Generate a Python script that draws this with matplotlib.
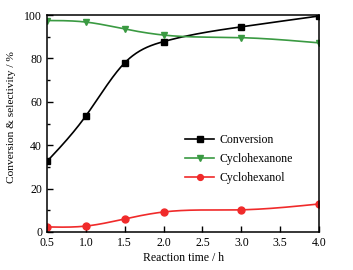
import numpy as np
import matplotlib
matplotlib.use("Agg")
import matplotlib.pyplot as plt

time_h = [0.5, 1.0, 1.5, 2.0, 3.0, 4.0]
conversion = [32.5, 53.5, 78.0, 87.8, 94.6, 99.6]
cyclohexanone = [97.5, 96.8, 93.6, 90.8, 89.6, 87.2]
cyclohexanol = [2.3, 2.7, 6.0, 9.2, 10.2, 12.9]
x_ticks = [0.5, 1.0, 1.5, 2.0, 2.5, 3.0, 3.5, 4.0]
y_ticks = [0, 20, 40, 60, 80, 100]

def natural_spline(x, y, xs):
    x = np.asarray(x, float); y = np.asarray(y, float)
    n = len(x); h = np.diff(x)
    A = np.zeros((n, n)); b = np.zeros(n)
    A[0, 0] = 1; A[-1, -1] = 1
    for i in range(1, n - 1):
        A[i, i - 1] = h[i - 1]; A[i, i] = 2 * (h[i - 1] + h[i]); A[i, i + 1] = h[i]
        b[i] = 6 * ((y[i + 1] - y[i]) / h[i] - (y[i] - y[i - 1]) / h[i - 1])
    M = np.linalg.solve(A, b)
    ys = np.empty_like(xs)
    for j, xv in enumerate(xs):
        k = min(max(np.searchsorted(x, xv, side='right') - 1, 0), n - 2)
        t1 = x[k + 1] - xv; t0 = xv - x[k]
        ys[j] = (M[k] * t1**3 + M[k + 1] * t0**3) / (6 * h[k]) \
            + (y[k] / h[k] - M[k] * h[k] / 6) * t1 + (y[k + 1] / h[k] - M[k + 1] * h[k] / 6) * t0
    return ys

plt.rcParams['font.family'] = ['Liberation Serif', 'DejaVu Serif']
fig = plt.figure(figsize=(3.53, 2.70), dpi=100)
ax = fig.add_axes([0.133, 0.141, 0.771, 0.803])

xs = np.linspace(0.5, 4.0, 300)
series = [
    (conversion, 'black', 's', 'Conversion', 4.5),
    (cyclohexanone, '#3a9a42', 'v', 'Cyclohexanone', 5.0),
    (cyclohexanol, '#f02a2a', 'o', 'Cyclohexanol', 5.0),
]
for vals, c, mk, lab, ms in series:
    ax.plot(xs, natural_spline(time_h, vals, xs), color=c, lw=1.2)
    ax.plot(time_h, vals, linestyle='none', marker=mk, color=c, ms=ms)
    ax.plot([], [], color=c, marker=mk, ms=ms - 0.8, lw=1.2, label=lab)

ax.set_xlim(0.5, 4.0)
ax.set_ylim(0, 100)
ax.set_xticks(x_ticks)
ax.set_xticklabels([f"{v:.1f}" for v in x_ticks])
ax.set_yticks(y_ticks)
ax.set_yticks(np.arange(10, 100, 20), minor=True)
ax.tick_params(direction='in', labelsize=8.5, length=4, width=1)
ax.tick_params(which='minor', direction='in', length=2.5, width=1)
for s in ax.spines.values():
    s.set_linewidth(1.1)
ax.set_xlabel('Reaction time / h', fontsize=8.5, labelpad=2)
ax.set_ylabel('Conversion & selectivity / %', fontsize=8.2)
ax.yaxis.set_label_coords(-0.115, 0.53)
ax.legend(loc='center left', bbox_to_anchor=(0.47, 0.337), frameon=False,
          fontsize=8.5, handlelength=2.45, handletextpad=0.4, labelspacing=0.6)
fig.savefig('out.png', dpi=100)
